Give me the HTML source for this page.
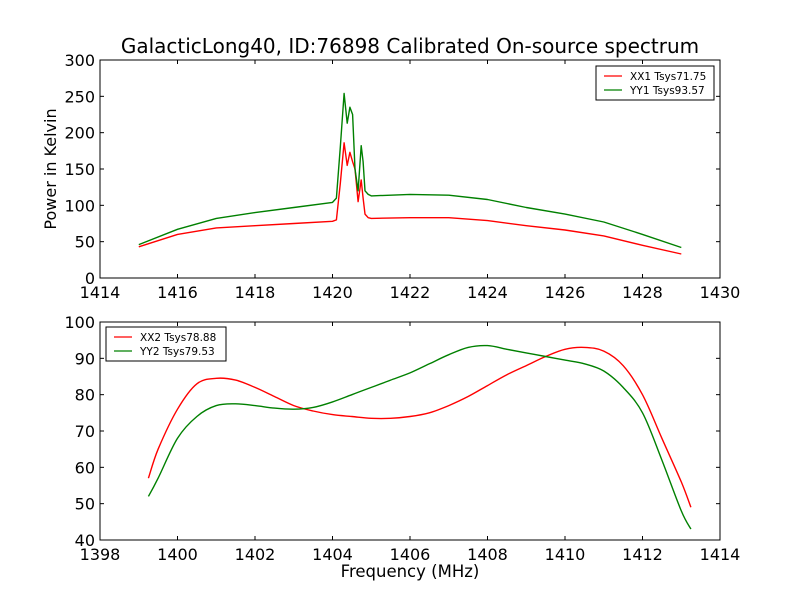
<!DOCTYPE html>
<html><head><meta charset="utf-8"><style>
body{margin:0;background:#fff}
svg{display:block;font-family:"DejaVu Sans","Liberation Sans",sans-serif}
</style></head><body>
<svg id="c" width="800" height="600" viewBox="0 0 800 600"></svg>
<script>
const topFreqX=[1415,1416,1417,1418,1419,1420,1420.1,1420.2,1420.3,1420.38,1420.45,1420.52,1420.58,1420.66,1420.74,1420.79,1420.84,1420.92,1421,1422,1423,1424,1425,1426,1427,1428,1429];
const topXX1=[43,60,69,72,75,78,80,130,186,155,173,160,150,105,135,110,88,83,82,83,83,79,72,66,58,45,33];
const topYY1=[46,67,82,90,97,104,110,180,254,213,235,225,150,120,182,160,120,115,113,115,114,108,97,88,77,60,42];
const botFreq=[1399.25,1399.5,1400,1400.5,1401,1401.5,1402,1402.5,1403,1403.5,1404,1404.5,1405,1405.5,1406,1406.5,1407,1407.5,1408,1408.5,1409,1409.5,1410,1410.5,1411,1411.5,1412,1412.5,1413,1413.25];
const botXX2=[57,65,76,83,84.5,84,82,79.5,77,75.5,74.5,74,73.5,73.5,74,75,77,79.5,82.5,85.5,88,90.5,92.5,93,92,88,80,68,56,49];
const botYY2=[52,57,68,74,77,77.5,77,76.3,76,76.5,78,80,82,84,86,88.5,91,93,93.5,92.5,91.5,90.5,89.5,88.5,86.5,82,75,62,48,43];
const topXTicks=[1414,1416,1418,1420,1422,1424,1426,1428,1430];
const topYTicks=[0,50,100,150,200,250,300];
const botXTicks=[1398,1400,1402,1404,1406,1408,1410,1412,1414];
const botYTicks=[40,50,60,70,80,90,100];

const svg=document.getElementById('c');
const NS='http://www.w3.org/2000/svg';
function mk(tag,attrs,parent){const e=document.createElementNS(NS,tag);for(const k in attrs)e.setAttribute(k,attrs[k]);(parent||svg).appendChild(e);return e;}

function pathD(pts,smooth){
  if(!smooth) return pts.map((p,i)=>(i?'L':'M')+p[0].toFixed(1)+','+p[1].toFixed(1)).join('');
  let d='M'+pts[0][0].toFixed(1)+','+pts[0][1].toFixed(1);
  for(let i=0;i<pts.length-1;i++){
    const p0=pts[Math.max(0,i-1)],p1=pts[i],p2=pts[i+1],p3=pts[Math.min(pts.length-1,i+2)];
    const c1=[p1[0]+(p2[0]-p0[0])/6,p1[1]+(p2[1]-p0[1])/6];
    const c2=[p2[0]-(p3[0]-p1[0])/6,p2[1]-(p3[1]-p1[1])/6];
    d+='C'+c1[0].toFixed(1)+','+c1[1].toFixed(1)+' '+c2[0].toFixed(1)+','+c2[1].toFixed(1)+' '+p2[0].toFixed(1)+','+p2[1].toFixed(1);
  }
  return d;
}

function panel(name,x0,x1,y0,y1,xmin,xmax,ymin,ymax,xt,yt,series,legend,smooth){
  const g=mk('g',{});
  
  
  const sx=v=>x0+(v-xmin)/(xmax-xmin)*(x1-x0);
  const sy=v=>y1-(v-ymin)/(ymax-ymin)*(y1-y0);
  series.forEach(s=>{
    const pts=s.x.map((xv,i)=>[sx(xv),sy(s.y[i])]);
    const p=mk('path',{d:pathD(pts,smooth),fill:'none',stroke:s.c,'stroke-width':1.4,'stroke-linejoin':'round'},g);
    
    
  });
  const fr=mk('rect',{x:x0,y:y0,width:x1-x0,height:y1-y0,fill:'none',stroke:'#000','stroke-width':1},g);
  
  
  xt.forEach(v=>{const X=sx(v);
    mk('line',{x1:X,x2:X,y1:y1,y2:y1-4,stroke:'#000'},g);mk('line',{x1:X,x2:X,y1:y0,y2:y0+4,stroke:'#000'},g);
    const t=mk('text',{x:X,y:y1+20,'text-anchor':'middle','font-size':16},g);t.textContent=v;
    
    });
  yt.forEach(v=>{const Y=sy(v);
    mk('line',{x1:x0,x2:x0+4,y1:Y,y2:Y,stroke:'#000'},g);mk('line',{x1:x1,x2:x1-4,y1:Y,y2:Y,stroke:'#000'},g);
    const t=mk('text',{x:x0-5,y:Y+6,'text-anchor':'end','font-size':16},g);t.textContent=v;
    
    });
  const lg=mk('g',{},g);
  
  
  mk('rect',{x:legend.x,y:legend.y,width:legend.w,height:34,fill:'#fff',stroke:'#000'},lg);
  series.forEach((s,i)=>{const Y=legend.y+10+i*14;
    mk('line',{x1:legend.x+8,x2:legend.x+26,y1:Y,y2:Y,stroke:s.c,'stroke-width':1.3},lg);
    const t=mk('text',{x:legend.x+34,y:Y+4,'font-size':10.5},lg);t.textContent=s.label;
    
    });
}
panel('top-panel',100,720,60,278,1414,1430,0,300,topXTicks,topYTicks,
 [{x:topFreqX,y:topXX1,c:'#ff0000',n:'xx1-line',label:'XX1 Tsys71.75'},{x:topFreqX,y:topYY1,c:'#008000',n:'yy1-line',label:'YY1 Tsys93.57'}],
 {x:596,y:66,w:118},false);
panel('bottom-panel',100,720,322,540,1398,1414,40,100,botXTicks,botYTicks,
 [{x:botFreq,y:botXX2,c:'#ff0000',n:'xx2-line',label:'XX2 Tsys78.88'},{x:botFreq,y:botYY2,c:'#008000',n:'yy2-line',label:'YY2 Tsys79.53'}],
 {x:106,y:327,w:120},true);
let t=mk('text',{x:410,y:53,'text-anchor':'middle','font-size':20});t.textContent='GalacticLong40, ID:76898 Calibrated On-source spectrum';


t=mk('text',{x:56,y:169,'text-anchor':'middle','font-size':16,transform:'rotate(-90 56 169)'});t.textContent='Power in Kelvin';


t=mk('text',{x:410,y:577,'text-anchor':'middle','font-size':16.5});t.textContent='Frequency (MHz)';


</script>
</body></html>
